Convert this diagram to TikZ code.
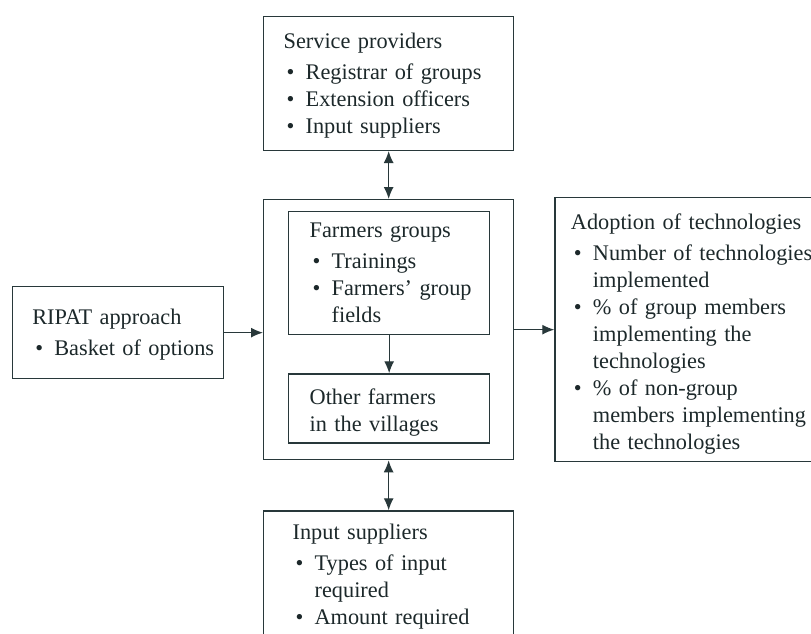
\documentclass[tikz,border=0pt]{standalone}
\usepackage{fontspec}
\setmainfont{Liberation Serif}
\usepackage{xcolor}
\usetikzlibrary{arrows.meta,positioning}

\definecolor{ink}{RGB}{40,56,58}
\definecolor{inktext}{RGB}{28,40,42}
\newcommand{\itm}{\makebox[22pt][l]{\hspace{3pt}\textbullet}}
\newcommand{\cont}{\hspace*{22pt}}

\begin{document}
\begin{tikzpicture}[
            x=1pt, y=1pt,
            font=\fontsize{22.3}{27}\selectfont,
            text=inktext,
        % text boxes: left padding comes in through \leftskip
            blk/.style={draw=ink, line width=1.3pt, rectangle, align=left,
            inner xsep=0pt, inner ysep=0pt, execute at begin node={\leftskip=#1}},
            blk/.default=20pt,
        % taller first line, so the text sits lower in its box
            drop/.style={execute at begin node={\rule{0pt}{#1}}},
        % empty frame round the two farmer boxes
            frame/.style={draw=ink, line width=1.3pt, rectangle, inner sep=0pt},
            arr/.style={-{Latex[length=12pt,width=10pt]}, draw=ink, line width=1.3pt},
            dbl/.style={{Latex[length=12pt,width=10pt]}-{Latex[length=12pt,width=10pt]}, draw=ink, line width=1.3pt}
        ]
            \clip (0,0) rectangle (811,-634);

% --- central block ---
            \node[frame, minimum width=250pt, minimum height=260pt, anchor=north west] (core) at (263,-199) {};
            \node[blk=21pt, text width=201pt, minimum height=123pt, anchor=north west] (fg) at (288,-211)
                {Farmers groups\\[4pt]\itm Trainings\\\itm Farmers' group\\\cont fields};
            \node[blk=21pt, drop=23pt, text width=201pt, minimum height=69pt, below=38pt of fg] (oth)
                {Other farmers\\in the villages};

% --- boxes round it ---
            \node[blk, drop=21pt, text width=250pt, minimum height=134pt, above=48pt of core] (svc)
                {Service providers\\[4pt]\itm Registrar of groups\\\itm Extension officers\\\itm Input suppliers};
            \node[blk=29pt, text width=250pt, minimum height=132pt, below=50pt of core] (inp)
                {Input suppliers\\[4pt]\itm Types of input\\\cont required\\\itm Amount required};
            \node[blk, drop=19pt, text width=211pt, minimum height=92pt, left=39pt of core, yshift=-3pt] (ripat)
                {RIPAT approach\\[4pt]\itm Basket of options};
            \node[blk=16pt, drop=24pt, text width=260pt, minimum height=264pt, right=40pt of core] (adopt)
                {Adoption of technologies\\[4pt]\itm Number of technologies\\\cont implemented\\\itm \% of group members\\\cont implementing the\\\cont technologies\\\itm \% of non-group\\\cont members implementing\\\cont the technologies};

% --- arrows ---
            \draw[dbl] (svc) -- (core);
            \draw[dbl] (core) -- (inp);
            \draw[arr] (fg) -- (oth);
            \draw[arr] (ripat.east) -- (ripat.east -| core.west);
            \draw[arr] (core) -- (adopt);
        \end{tikzpicture}
\end{document}
